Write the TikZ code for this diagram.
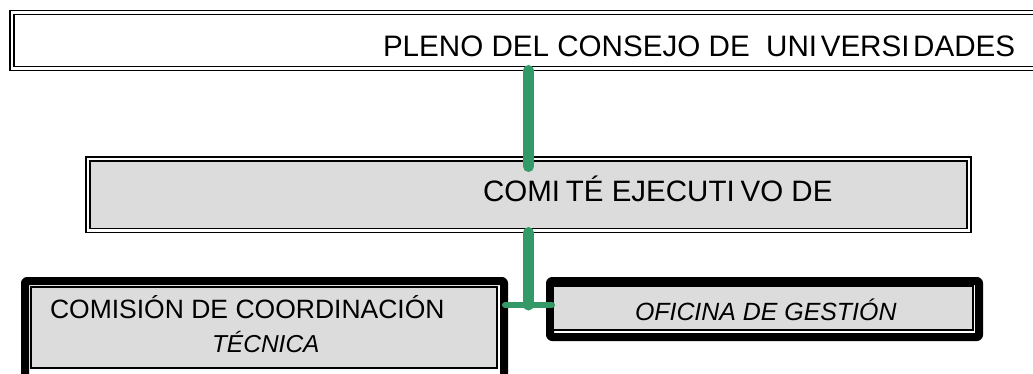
\documentclass[tikz,border=0pt]{standalone}
\usepackage{fontspec}
\setmainfont{Liberation Sans}
\definecolor{boxgray}{HTML}{DCDCDC}
\definecolor{conngreen}{HTML}{339966}
\begin{document}
\begin{tikzpicture}[x=1pt,y=-1pt,
  every node/.style={inner sep=0pt,outer sep=0pt},
  dblbox/.style={draw,line width=1.5pt,double=white,double distance=2.5pt,rectangle},
  thickframe/.style={draw,line width=8pt,fill=white,rounded corners=2pt,line join=round,rectangle},
  thinbox/.style={draw,line width=1.2pt,fill=boxgray,rectangle},
  conn/.style={draw=conngreen,line width=11pt,line cap=round},
  connh/.style={draw=conngreen,line width=6pt,line cap=round},
  lbl/.style={anchor=base west,text=black}
]
\useasboundingbox (0,0) rectangle (1033,374);
\clip (0,0) rectangle (1033,374);
% top box
\node[dblbox,fill=white,minimum width=1033pt,minimum height=56pt] (top) at (528.5,40.5) {};
% middle box
\node[dblbox,fill=boxgray,minimum width=881pt,minimum height=71.5pt] (mid) at (528.5,194.75) {};
% bottom left box
\node[thickframe,minimum width=479pt,minimum height=99pt] (ccf) at (264.5,330.5) {};
\node[thinbox,minimum width=466pt,minimum height=81pt] (cc) at (264,327.5) {};
% bottom right box
\node[thickframe,minimum width=429pt,minimum height=56pt] (ogf) at (764.5,309) {};
\node[thinbox,minimum width=420pt,minimum height=44pt] (og) at (763,308) {};
% texts
\node[lbl,font=\fontsize{29.6}{36}\selectfont] (toptxt) at (383,57) {PLENO DEL CONSEJO DE\ \ UNI\hspace{0.12em}VERSI\hspace{0.12em}DADES};
\node[lbl,font=\fontsize{29.5}{35}\selectfont] (midtxt) at (483,202) {COMI\hspace{0.2em}TÉ EJECUTI\hspace{0.2em}VO DE};
\node[lbl,font=\fontsize{26.5}{30}\selectfont] (cctxt1) at (50,318) {COMISIÓN DE COORDINACIÓN};
\node[lbl,font=\fontsize{24.5}{30}\selectfont\itshape] (cctxt2) at (212,352) {TÉCNICA};
\node[lbl,font=\fontsize{24.9}{29}\selectfont\itshape] (ogtxt) at (635,320) {OFICINA DE GESTIÓN};
% connectors
\coordinate (j) at (528.5,305);
\draw[conn] ([yshift=-2pt]top.south -| j) -- ([yshift=-7.5pt]mid.north -| j);
\draw[conn] ([yshift=-2pt]mid.south -| j) -- (j);
\draw[connh] ([xshift=1pt]ccf.east |- j) -- ([xshift=2pt]ogf.west |- j);
\end{tikzpicture}
\end{document}
